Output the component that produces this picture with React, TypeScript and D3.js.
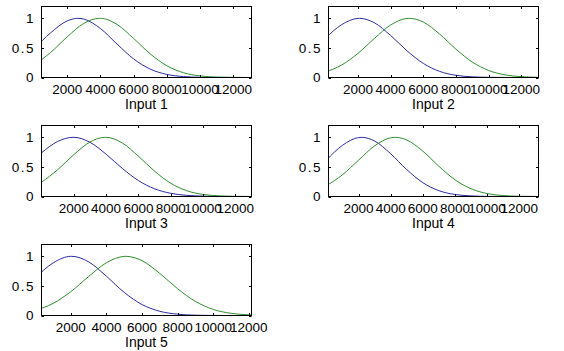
import React from "react";
import * as d3 from "d3";

// fuzzy input membership functions, five inputs, two MFs each
const inputNames = ["Input 1", "Input 2", "Input 3", "Input 4", "Input 5"];
const xTicks = [2000, 4000, 6000, 8000, 10000, 12000];
const yTicks = [0, 0.5, 1];

// range of each input (where the axes start / stop)
const rangeMin = [450, 200, 0, 130, 350];
const rangeMax = [13100, 13050, 13000, 13200, 12150];

// x positions the curves were read at
const sampleX = [0, 1000, 2000, 3000, 4000, 5000, 6000, 7000, 8000, 9000, 10000, 11000, 12000, 13000];

// membership degree at sampleX (blue = first MF, green = second MF)
const mf1Blue = [0.484, 0.755, 0.957, 0.987, 0.828, 0.565, 0.314, 0.142, 0.052, 0.016, 0.004, 0.001, 0, 0];
const mf1Green = [0.214, 0.423, 0.687, 0.915, 1.0, 0.897, 0.66, 0.399, 0.198, 0.081, 0.027, 0.007, 0.002, 0];
const mf2Blue = [0.659, 0.892, 0.999, 0.926, 0.711, 0.452, 0.238, 0.103, 0.037, 0.011, 0.003, 0.001, 0, 0];
const mf2Green = [0.091, 0.21, 0.407, 0.658, 0.887, 0.998, 0.937, 0.734, 0.479, 0.261, 0.119, 0.045, 0.014, 0.004];
const mf3Blue = [0.738, 0.93, 1.0, 0.916, 0.715, 0.475, 0.269, 0.13, 0.054, 0.019, 0.006, 0.001, 0, 0];
const mf3Green = [0.241, 0.452, 0.707, 0.921, 1.0, 0.904, 0.681, 0.428, 0.224, 0.097, 0.035, 0.011, 0.003, 0.001];
const mf4Blue = [0.615, 0.865, 0.996, 0.938, 0.722, 0.455, 0.234, 0.099, 0.034, 0.01, 0.002, 0, 0, 0];
const mf4Green = [0.182, 0.367, 0.614, 0.856, 0.992, 0.956, 0.766, 0.511, 0.283, 0.131, 0.05, 0.016, 0.004, 0.001];
const mf5Blue = [0.635, 0.888, 1.0, 0.907, 0.663, 0.39, 0.185, 0.071, 0.022, 0.005, 0.001, 0, 0, 0];
const mf5Green = [0.086, 0.204, 0.403, 0.659, 0.892, 0.999, 0.926, 0.711, 0.452, 0.238, 0.103, 0.037, 0.011, 0.003];

// where each curve tops out at 1
const bluePeaks = [2650, 2100, 1950, 2200, 2050];
const greenPeaks = [3950, 5150, 3950, 4300, 5100];

const blueSeries = [mf1Blue, mf2Blue, mf3Blue, mf4Blue, mf5Blue];
const greenSeries = [mf1Green, mf2Green, mf3Green, mf4Green, mf5Green];

const BLUE = "#2b2ba6";
const GREEN = "#2f8f2f";
const W = 210;
const H = 71;
const cols = [41.5, 328.5];
const rows = [6.5, 125.5, 244.5];
const font = "'Liberation Sans', Arial, sans-serif";

function toPoints(vals: number[], peak: number): [number, number][] {
  const pts: [number, number][] = sampleX.map((x, k) => [x, vals[k]]);
  pts.push([peak, 1]);
  return pts.sort((a, b) => a[0] - b[0]);
}

function Panel({ i }: { i: number }) {
  const left = cols[i % 2];
  const top = rows[Math.floor(i / 2)];
  const bottom = top + H;
  const right = left + W;

  const x = d3.scaleLinear().domain([rangeMin[i], rangeMax[i]]).range([left, right]);
  const y = d3.scaleLinear().domain([0, 1.2]).range([bottom, top]);

  const mfLine = d3
    .line<[number, number]>()
    .x((d) => x(d[0]))
    .y((d) => y(d[1]))
    .curve(d3.curveMonotoneX);

  const clipId = `clip-${i}`;
  const tl = 2.5;

  return (
    <g>
      <defs>
        <clipPath id={clipId}>
          <rect x={left} y={top} width={W} height={H} />
        </clipPath>
      </defs>
      <rect x={left} y={top} width={W} height={H} fill="#fff" />
      <g clipPath={`url(#${clipId})`} fill="none" strokeWidth={1}>
        <path d={mfLine(toPoints(blueSeries[i], bluePeaks[i])) || ""} stroke={BLUE} />
        <path d={mfLine(toPoints(greenSeries[i], greenPeaks[i])) || ""} stroke={GREEN} />
      </g>
      <rect x={left} y={top} width={W} height={H} fill="none" stroke="#000" strokeWidth={1} />
      {xTicks.map((t) => {
        const px = Math.round(x(t)) + 0.5;
        return (
          <g key={t}>
            <line x1={px} x2={px} y1={bottom} y2={bottom - tl} stroke="#000" />
            <line x1={px} x2={px} y1={top} y2={top + tl} stroke="#000" />
            <text x={x(t)} y={bottom + 16} textAnchor="middle" fontSize={13.5} fontFamily={font} fill="#000">
              {t}
            </text>
          </g>
        );
      })}
      {yTicks.map((t) => {
        const py = Math.round(y(t)) + 0.5;
        return (
          <g key={t}>
            <line x1={left} x2={left + tl} y1={py} y2={py} stroke="#000" />
            <line x1={right} x2={right - tl} y1={py} y2={py} stroke="#000" />
            <text
              x={left - 8}
              y={y(t)}
              dy="0.36em"
              textAnchor="end"
              fontSize={13.5}
              fontFamily={font}
              letterSpacing={t === 0.5 ? 1.5 : 0}
              dx={t === 0.5 ? 1.5 : 0}
              fill="#000"
            >
              {t}
            </text>
          </g>
        );
      })}
      <text x={(left + right) / 2} y={bottom + 31} textAnchor="middle" fontSize={14} fontFamily={font} fill="#000">
        {inputNames[i]}
      </text>
    </g>
  );
}

export default function App() {
  return (
    <svg
      width={564}
      height={351}
      style={{ position: "absolute", left: 0, top: 0, background: "#fff" }}
    >
      <rect width={564} height={351} fill="#fff" />
      {inputNames.map((_, i) => (
        <Panel key={i} i={i} />
      ))}
    </svg>
  );
}
